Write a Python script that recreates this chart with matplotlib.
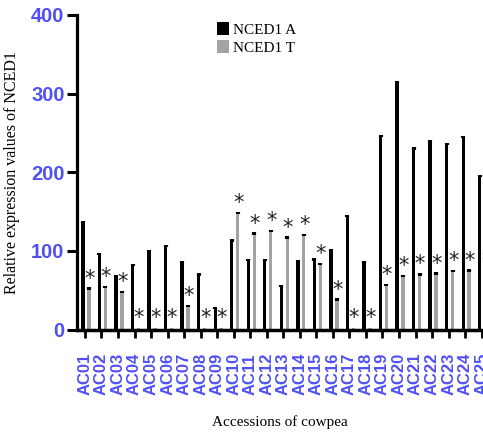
import numpy as np
import matplotlib.pyplot as plt

# accessions and relative expression values
accessions = ["AC%02d" % i for i in range(1, 26)]
nced1_a = [137, 96, 68, 82, 100, 106, 86, 70, 27, 113, 88, 88, 55,
           87, 89, 101, 144, 85, 246, 315, 230, 240, 236, 245, 195]
nced1_t = [52, 54, 48, 2, 2, 2, 30, 2, 2, 148, 122, 125, 117,
           120, 83, 38, 2, 2, 57, 68, 70, 71, 74, 75, 75]
y_ticks = [0, 100, 200, 300, 400]

blue = "#5050f5"
fig = plt.figure(figsize=(4.83, 4.32), dpi=100)
ax = fig.add_axes([77 / 483, 102.5 / 432, 1 - 77 / 483, 314.5 / 432])

x = np.arange(len(accessions))
w = 0.2
xa = x - 0.12
xt = x + 0.24
ax.bar(xa, nced1_a, width=w, color="black", label="NCED1 A")
ax.bar(xt, nced1_t, width=w, color="#a3a3a3", label="NCED1 T")
# small error caps (only where a bar is visible)
t = np.array(nced1_t)
ax.errorbar(xa, nced1_a, yerr=1.5, fmt="none", ecolor="black", elinewidth=3)
ax.errorbar(xt[t > 10], t[t > 10], yerr=1.5, fmt="none", ecolor="black", elinewidth=3)

# significance stars over the T bars
for xi, v in zip(xt, nced1_t):
    ax.annotate("*", (xi + 0.03, v), xytext=(0, 0), textcoords="offset points",
                ha="center", va="bottom", fontsize=15, color="#222222",
                annotation_clip=False)

ax.set_xlim(-0.48, 24.08)
ax.set_ylim(0, 400)
ax.set_yticks(y_ticks)
ax.set_xticks(x)
ax.set_xticklabels(accessions, rotation=90, fontsize=12, fontweight="bold",
                   color=blue, family="Liberation Sans")
for lab in ax.get_yticklabels():
    lab.set_fontsize(14.5)
    lab.set_fontweight("bold")
    lab.set_color(blue)
    lab.set_family("Liberation Sans")

ax.spines["top"].set_visible(False)
ax.spines["right"].set_visible(False)
ax.spines["left"].set_linewidth(2.3)
ax.spines["bottom"].set_linewidth(2.5)
ax.tick_params(axis="y", length=7, width=2.2, pad=2)
ax.tick_params(axis="x", length=6, width=2, pad=11)

ax.set_ylabel("Relative expression values of NCED1", family="Liberation Serif",
              fontsize=11.5, labelpad=8)
ax.set_xlabel("Accessions of cowpea", family="Liberation Serif", fontsize=11,
              labelpad=14)

ax.legend(loc="upper left", bbox_to_anchor=(0.31, 1.02), frameon=False,
          prop={"family": "Liberation Serif", "size": 11},
          handlelength=0.8, handleheight=0.9, handletextpad=0.3,
          labelspacing=0.2)

fig.savefig("out.png", dpi=100)
